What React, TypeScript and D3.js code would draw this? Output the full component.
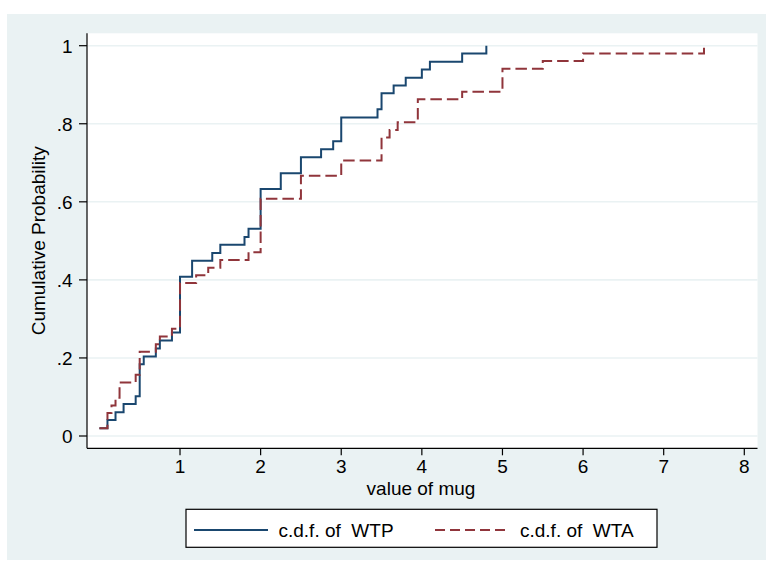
import React from "react";
import * as d3 from "d3";

const wtpValues = [0, 0.1, 0.2, 0.3, 0.45, 0.5, 0.55, 0.7, 0.75, 0.9, 1, 1.15, 1.4, 1.5, 1.8, 1.85, 2, 2.25, 2.5, 2.75, 2.9, 3, 3.45, 3.5, 3.65, 3.8, 4, 4.1, 4.5, 4.8];
const wtpCdf = [0.02, 0.041, 0.061, 0.082, 0.102, 0.184, 0.204, 0.224, 0.245, 0.265, 0.408, 0.449, 0.469, 0.49, 0.51, 0.531, 0.633, 0.673, 0.714, 0.735, 0.755, 0.816, 0.837, 0.878, 0.898, 0.918, 0.939, 0.959, 0.98, 1];

// WTA empirical c.d.f.
const wtaValues = [0, 0.1, 0.15, 0.2, 0.25, 0.45, 0.5, 0.7, 0.75, 0.9, 1, 1.2, 1.35, 1.5, 1.85, 2, 2.5, 3, 3.5, 3.6, 3.7, 3.95, 4.5, 5, 5.5, 6, 7.5];
const wtaCdf = [0.02, 0.059, 0.078, 0.098, 0.137, 0.157, 0.216, 0.235, 0.255, 0.275, 0.392, 0.412, 0.431, 0.451, 0.471, 0.608, 0.667, 0.706, 0.765, 0.784, 0.804, 0.863, 0.882, 0.941, 0.961, 0.98, 1];

const xTicks = [1, 2, 3, 4, 5, 6, 7, 8];
const yTicks = [0, 0.2, 0.4, 0.6, 0.8, 1];
const yTickLabels = ["0", ".2", ".4", ".6", ".8", "1"];

const seriesNames = ["c.d.f. of  WTP", "c.d.f. of  WTA"];
const xTitle = "value of mug";
const yTitle = "Cumulative Probability";

const W = 766;
const H = 563;
const plotLeft = 87;
const plotRight = 757.5;
const plotTop = 33.3;
const plotBottom = 448.3;

const BG = "#EAF2F3";
const BLUE = "#1A476F";
const RED = "#90353B";
const FONT = "'Liberation Sans', Arial, Helvetica, sans-serif";

export default function App() {
  const x = d3.scaleLinear().domain([0, 8]).range([99.4, 744.3]);
  const y = d3.scaleLinear().domain([0, 1]).range([436, 45.7]);

  const line = d3
    .line<[number, number]>()
    .x((d) => x(d[0]))
    .y((d) => y(d[1]))
    .curve(d3.curveStepAfter);

  const wtp = wtpValues.map((v, i) => [v, wtpCdf[i]] as [number, number]);
  const wta = wtaValues.map((v, i) => [v, wtaCdf[i]] as [number, number]);

  return (
    <svg
      width={W}
      height={H}
      style={{ position: "absolute", left: 0, top: 0, fontFamily: FONT }}
    >
      <rect x={0} y={0} width={W} height={H} fill="#ffffff" />
      <rect x={7} y={14} width={W - 7} height={560 - 14} fill={BG} />
      <rect
        x={plotLeft}
        y={plotTop}
        width={plotRight - plotLeft}
        height={plotBottom - plotTop}
        fill="#ffffff"
      />
      {/* grid */}
      {yTicks.map((t) => (
        <line
          key={"g" + t}
          x1={plotLeft}
          x2={plotRight}
          y1={y(t)}
          y2={y(t)}
          stroke={BG}
          strokeWidth={1.6}
        />
      ))}
      {/* series */}
      <path d={line(wtp) || ""} fill="none" stroke={BLUE} strokeWidth={2} />
      <path
        d={line(wta) || ""}
        fill="none"
        stroke={RED}
        strokeWidth={2}
        strokeDasharray="11.5 5"
      />
      {/* axes */}
      <line x1={plotLeft} x2={plotLeft} y1={plotTop} y2={plotBottom} stroke="#000" strokeWidth={1.2} />
      <line x1={plotLeft} x2={plotRight} y1={plotBottom} y2={plotBottom} stroke="#000" strokeWidth={1.2} />
      {yTicks.map((t, i) => (
        <g key={"y" + t}>
          <line x1={plotLeft - 8} x2={plotLeft} y1={y(t)} y2={y(t)} stroke="#000" strokeWidth={1.2} />
          <text x={72.5} y={y(t) + 7} textAnchor="end" fontSize={19} fill="#000">
            {yTickLabels[i]}
          </text>
        </g>
      ))}
      {xTicks.map((t) => (
        <g key={"x" + t}>
          <line x1={x(t)} x2={x(t)} y1={plotBottom} y2={plotBottom + 7} stroke="#000" strokeWidth={1.2} />
          <text x={x(t)} y={473.3} textAnchor="middle" fontSize={19} fill="#000">
            {t}
          </text>
        </g>
      ))}
      <text x={421} y={495} textAnchor="middle" fontSize={19} fill="#000">
        {xTitle}
      </text>
      <text
        transform={`translate(45,${(plotTop + plotBottom) / 2}) rotate(-90)`}
        textAnchor="middle"
        fontSize={19}
        fill="#000"
      >
        {yTitle}
      </text>
      {/* legend */}
      <rect x={186} y={509.3} width={657 - 186} height={547.3 - 509.3} fill="#fff" stroke="#000" strokeWidth={1.2} />
      <line x1={194} x2={268} y1={530} y2={530} stroke={BLUE} strokeWidth={2} />
      <text x={278.5} y={536.7} fontSize={19} fill="#000" style={{ whiteSpace: "pre" }}>
        {seriesNames[0]}
      </text>
      <line x1={435} x2={508} y1={530} y2={530} stroke={RED} strokeWidth={2} strokeDasharray="10 5" />
      <text x={520} y={536.7} fontSize={19} fill="#000" style={{ whiteSpace: "pre" }}>
        {seriesNames[1]}
      </text>
    </svg>
  );
}
